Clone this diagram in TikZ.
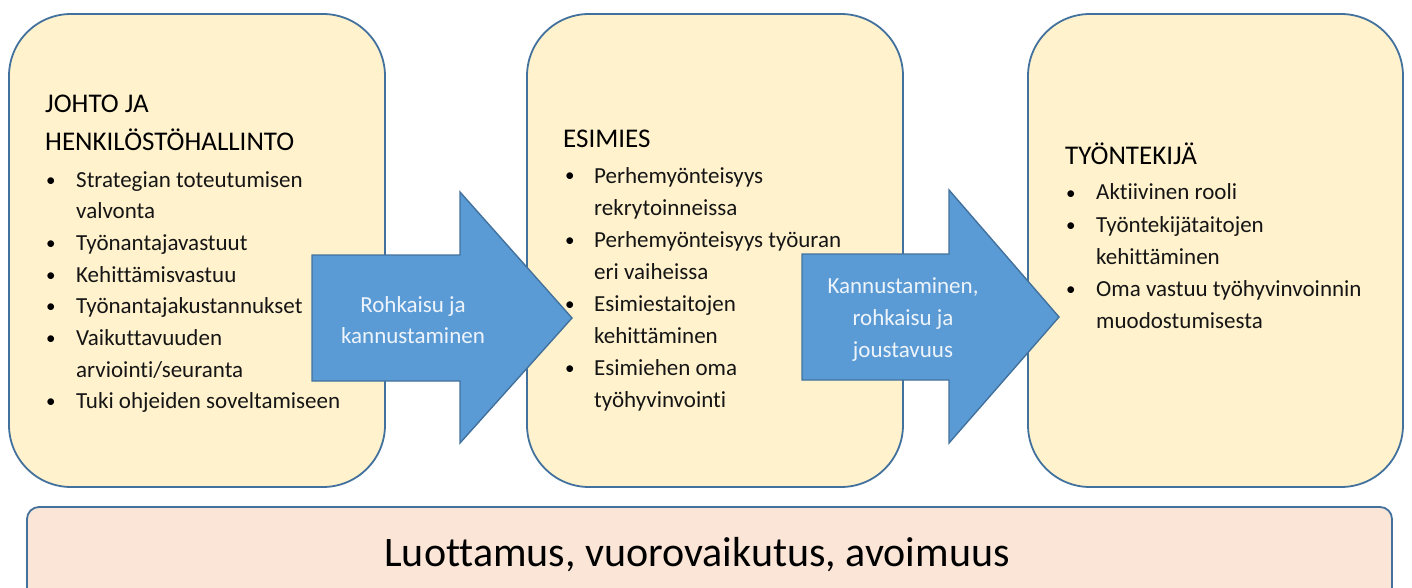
\documentclass[tikz,border=0pt]{standalone}
\usepackage{fontspec}
\setmainfont{Carlito}[Ligatures=CommonOff]
\definecolor{boxfill}{HTML}{FFF2CC}
\definecolor{boxline}{HTML}{41719C}
\definecolor{basefill}{HTML}{FBE5D6}
\definecolor{arrowfill}{HTML}{5B9BD5}
\definecolor{arrowline}{HTML}{41719C}
\definecolor{arrowtext}{HTML}{EEF4FB}
\definecolor{bodytext}{HTML}{151515}
\begin{document}
\begin{tikzpicture}[x=1pt,y=-1pt,
  panel/.style={draw=boxline, fill=boxfill, line width=1.8pt, rounded corners=62pt},
  basepanel/.style={draw=boxline, fill=basefill, line width=1.8pt, rounded corners=12pt},
  bigarrow/.style={draw=arrowline, fill=arrowfill, line width=1.4pt, line join=miter},
  head/.style={anchor=base west, inner sep=0pt, text=black, font=\fontsize{27}{32}\selectfont},
  item/.style={anchor=base west, inner sep=0pt, text=bodytext, font=\fontsize{23}{32}\selectfont},
  dot/.style={anchor=base west, inner sep=0pt, text=black, font=\fontsize{19}{32}\selectfont},
  atext/.style={anchor=base, inner sep=0pt, text=arrowtext, font=\fontsize{23}{32}\selectfont},
  basetext/.style={anchor=base, inner sep=0pt, text=black, font=\fontsize{42}{48}\selectfont}]
\useasboundingbox (0,0) rectangle (1412,588);
\clip (0,0) rectangle (1412,588);

% panels
\draw[panel] (9,14) rectangle (385,487);
\draw[panel] (527,14) rectangle (903,487);
\draw[panel] (1028,14) rectangle (1403,487);
\draw[basepanel] (27,507) rectangle (1392,640);

% arrows
\draw[bigarrow] (312,255) -- (460,255) -- (460,192) -- (572,318) -- (460,443) -- (460,381) -- (312,381) -- cycle;
\draw[bigarrow] (802,254) -- (949,254) -- (949,190) -- (1059,317) -- (949,443) -- (949,380) -- (802,380) -- cycle;

% box 1
\node[head] (h1a) at (45,113) {JOHTO JA};
\node[head] (h1b) at (45,151) {HENKILÖSTÖHALLINTO};
\node[dot] (d1a) at (46,186) {•};
\node[item] (t1a) at (76,187) {Strategian toteutumisen};
\node[item] (t1b) at (76,218.7) {valvonta};
\node[dot] (d1c) at (46,249.4) {•};
\node[item] (t1c) at (76,250.4) {Työnantajavastuut};
\node[dot] (d1d) at (46,281.1) {•};
\node[item] (t1d) at (76,282.1) {Kehittämisvastuu};
\node[dot] (d1e) at (46,312.8) {•};
\node[item] (t1e) at (76,313.8) {Työnantajakustannukset};
\node[dot] (d1f) at (46,344.5) {•};
\node[item] (t1f) at (76,345.5) {Vaikuttavuuden};
\node[item] (t1g) at (76,377.2) {arviointi/seuranta};
\node[dot] (d1h) at (46,407.9) {•};
\node[item] (t1h) at (76,408.9) {Tuki ohjeiden soveltamiseen};

% box 2
\node[head] (h2) at (563,148) {ESIMIES};
\node[dot] (d2a) at (565,182) {•};
\node[item] (t2a) at (594,183) {Perhemyönteisyys};
\node[item] (t2b) at (594,215) {rekrytoinneissa};
\node[dot] (d2c) at (565,246) {•};
\node[item] (t2c) at (594,247) {Perhemyönteisyys työuran};
\node[item] (t2d) at (594,279) {eri vaiheissa};
\node[dot] (d2e) at (565,310) {•};
\node[item] (t2e) at (594,311) {Esimiestaitojen};
\node[item] (t2f) at (594,343) {kehittäminen};
\node[dot] (d2g) at (565,374) {•};
\node[item] (t2g) at (594,375) {Esimiehen oma};
\node[item] (t2h) at (594,407) {työhyvinvointi};

% box 3
\node[head] (h3) at (1065,165) {TYÖNTEKIJÄ};
\node[dot] (d3a) at (1066,199) {•};
\node[item] (t3a) at (1096,200) {Aktiivinen rooli};
\node[dot] (d3b) at (1066,231) {•};
\node[item] (t3b) at (1096,232) {Työntekijätaitojen};
\node[item] (t3c) at (1096,264) {kehittäminen};
\node[dot] (d3d) at (1066,295) {•};
\node[item] (t3d) at (1096,296) {Oma vastuu työhyvinvoinnin};
\node[item] (t3e) at (1096,328) {muodostumisesta};

% arrow labels
\node[atext] (a1a) at (413,312) {Rohkaisu ja};
\node[atext] (a1b) at (413,343) {kannustaminen};
\node[atext] (a2a) at (903,293) {Kannustaminen,};
\node[atext] (a2b) at (903,325) {rohkaisu ja};
\node[atext] (a2c) at (903,357) {joustavuus};

% base
\node[basetext] (base) at (697,566) {Luottamus, vuorovaikutus, avoimuus};
\end{tikzpicture}
\end{document}
